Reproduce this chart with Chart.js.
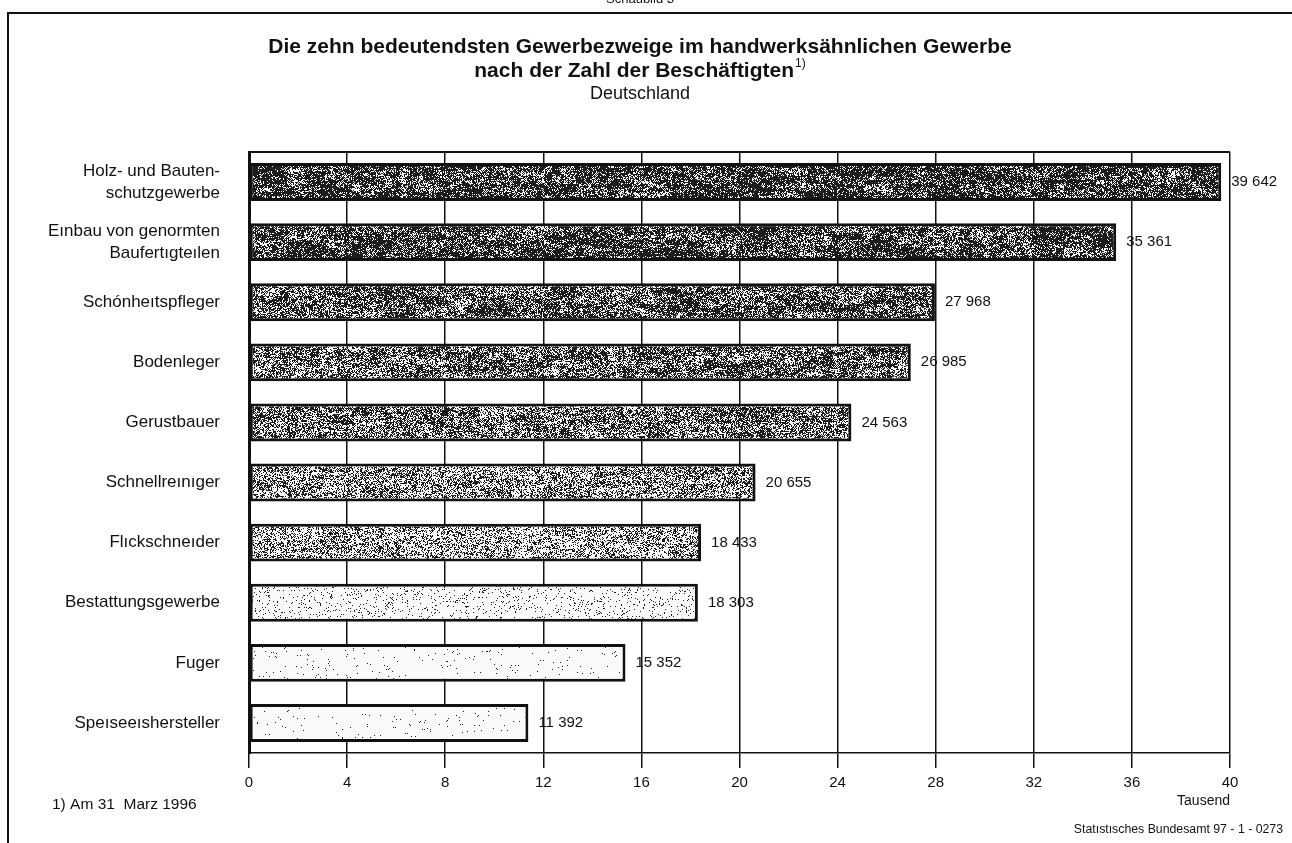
<!DOCTYPE html>
<html lang="de">
<head>
<meta charset="utf-8">
<title>Gewerbezweige im handwerksähnlichen Gewerbe</title>
<script src="https://cdn.jsdelivr.net/npm/chart.js@4/dist/chart.umd.min.js"></script>
<style>
  html, body { margin: 0; padding: 0; background: #fff; }
  #wrap { position: relative; width: 1292px; height: 843px; }
</style>
</head>
<body>
<div id="wrap"><canvas id="chart" width="1292" height="843"></canvas></div>
<script>
// Gewerbezweige (Reihenfolge von oben nach unten)
const categories = [
  ['Holz- und Bauten-', 'schutzgewerbe'],
  ['Eınbau von genormten', 'Baufertıgteılen'],
  'Schónheıtspfleger',
  'Bodenleger',
  'Gerustbauer',
  'Schnellreınıger',
  'Flıckschneıder',
  'Bestattungsgewerbe',
  'Fuger',
  'Speıseeıshersteller'
];

// Beschäftigte am 31. März 1996, in Tausend
const beschaeftigte = [39.642, 35.361, 27.968, 26.985, 24.563, 20.655, 18.433, 18.303, 15.352, 11.392];

// Skalenwerte der x-Achse (Tausend)
const xTicks = [0, 4, 8, 12, 16, 20, 24, 28, 32, 36, 40];

const FONT = "'Liberation Sans', Arial, Helvetica, sans-serif";

// Rasterdichte (Anteil dunkler Punkte) je Balken
const rasterDichte = [0.76, 0.73, 0.66, 0.61, 0.56, 0.46, 0.38, 0.07, 0.014, 0.011];

function hash(x, y, s) {
  let h = Math.imul(x, 374761393) + Math.imul(y, 668265263) + Math.imul(s, 982451653);
  h = Math.imul(h ^ (h >>> 13), 1274126177);
  h = h ^ (h >>> 16);
  return (h >>> 0) / 4294967296;
}

// Gerastertes Füllmuster für einen Balken
function makeRaster(density, seed) {
  const w = 1000, h = 64;
  const c = document.createElement('canvas');
  c.width = w; c.height = h;
  const g = c.getContext('2d');
  const img = g.createImageData(w, h);
  for (let y = 0; y < h; y++) {
    for (let x = 0; x < w; x++) {
      const fine = hash(x, y, seed);
      const blob = 0.6 * hash(x >> 3, y >> 2, seed + 13) + 0.4 * hash(x >> 5, y >> 3, seed + 29);
      const screen = ((x + y) & 1) === 0 ? 0.85 : 1.15;
      const thr = Math.min(0.97, density * (0.55 + 0.9 * blob) * screen);
      const dark = fine < thr;
      const i = (y * w + x) * 4;
      const col = dark ? 28 : 250;
      img.data[i] = col; img.data[i + 1] = col; img.data[i + 2] = col; img.data[i + 3] = 255;
    }
  }
  g.putImageData(img, 0, 0);
  return g.createPattern(c, 'repeat');
}

function formatWert(v) {
  const n = Math.round(v * 1000);
  const s = String(n);
  return s.length > 3 ? s.slice(0, s.length - 3) + ' ' + s.slice(s.length - 3) : s;
}

// Kopf, Rahmen, Fußnote und Quelle
const rahmenPlugin = {
  id: 'rahmen',
  beforeDraw(chart) {
    const ctx = chart.ctx;
    ctx.save();
    ctx.fillStyle = '#fff';
    ctx.fillRect(0, 0, chart.width, chart.height);
    ctx.strokeStyle = '#111';
    ctx.lineWidth = 2;
    ctx.beginPath();
    ctx.moveTo(8, 843);
    ctx.lineTo(8, 13);
    ctx.lineTo(1292, 13);
    ctx.stroke();

    ctx.fillStyle = '#111';
    ctx.textAlign = 'center';
    ctx.textBaseline = 'alphabetic';
    ctx.font = '13px ' + FONT;
    ctx.fillText('Schaubild 3', 640, 3);

    ctx.font = 'bold 21px ' + FONT;
    ctx.textBaseline = 'middle';
    ctx.fillText('Die zehn bedeutendsten Gewerbezweige im handwerksähnlichen Gewerbe', 640, 47);
    const l2 = 'nach der Zahl der Beschäftigten';
    const w2 = ctx.measureText(l2).width;
    ctx.font = '12px ' + FONT;
    const wSup = ctx.measureText('1)').width;
    const start = 640 - (w2 + wSup + 1) / 2;
    ctx.textAlign = 'left';
    ctx.font = 'bold 21px ' + FONT;
    ctx.fillText(l2, start, 71);
    ctx.font = '12px ' + FONT;
    ctx.fillText('1)', start + w2 + 1, 64);

    ctx.textAlign = 'center';
    ctx.font = '18px ' + FONT;
    ctx.fillText('Deutschland', 640, 94);

    ctx.textAlign = 'left';
    ctx.font = '15.5px ' + FONT;
    ctx.fillText('1) Am 31  Marz 1996', 52, 805);

    ctx.textAlign = 'right';
    ctx.font = '12.3px ' + FONT;
    ctx.fillText('Statıstısches Bundesamt 97 - 1 - 0273', 1283, 830);
    ctx.restore();
  },
  beforeDatasetsDraw(chart) {
    const { ctx, chartArea } = chart;
    ctx.save();
    ctx.strokeStyle = '#111';
    ctx.lineWidth = 2;
    ctx.beginPath();
    ctx.moveTo(chartArea.left, chartArea.top);
    ctx.lineTo(chartArea.right, chartArea.top);
    ctx.stroke();
    ctx.restore();
  },
  afterDatasetsDraw(chart) {
    const ctx = chart.ctx;
    const meta = chart.getDatasetMeta(0);
    ctx.save();
    ctx.fillStyle = '#111';
    ctx.font = '15px ' + FONT;
    ctx.textAlign = 'left';
    ctx.textBaseline = 'middle';
    meta.data.forEach((bar, i) => {
      ctx.fillText(formatWert(beschaeftigte[i]), bar.x + 10, bar.y);
    });
    ctx.restore();
  }
};

const ctx = document.getElementById('chart').getContext('2d');
new Chart(ctx, {
  type: 'bar',
  data: {
    labels: categories,
    datasets: [{
      data: beschaeftigte,
      backgroundColor: rasterDichte.map((d, i) => makeRaster(d, i * 31 + 5)),
      borderColor: '#111',
      borderWidth: 3,
      borderSkipped: false,
      barPercentage: 0.63,
      categoryPercentage: 1.0
    }]
  },
  options: {
    indexAxis: 'y',
    responsive: false,
    animation: false,
    layout: { padding: { top: 152, right: 62, bottom: 0, left: 0 } },
    plugins: {
      legend: { display: false },
      tooltip: { enabled: false }
    },
    scales: {
      x: {
        type: 'linear',
        position: 'bottom',
        min: xTicks[0],
        max: xTicks[xTicks.length - 1],
        afterBuildTicks(scale) { scale.ticks = xTicks.map(v => ({ value: v })); },
        afterFit(scale) { scale.height = 90; },
        ticks: {
          color: '#111',
          font: { family: FONT, size: 15 },
          padding: 6,
          maxRotation: 0
        },
        grid: {
          color: '#111',
          lineWidth: 1.5,
          tickLength: 15,
          drawOnChartArea: true,
          drawTicks: true
        },
        border: { display: true, color: '#111', width: 1.5 },
        title: {
          display: true,
          text: 'Tausend',
          align: 'end',
          color: '#111',
          font: { family: FONT, size: 14 },
          padding: { top: 2, bottom: 33 }
        }
      },
      y: {
        type: 'category',
        afterFit(scale) { scale.width = 249; },
        ticks: {
          color: '#111',
          font: { family: FONT, size: 17, lineHeight: 1.3 },
          padding: 29
        },
        grid: { display: false, drawTicks: false },
        border: { display: true, color: '#111', width: 3 }
      }
    }
  },
  plugins: [rahmenPlugin]
});
</script>
</body>
</html>
